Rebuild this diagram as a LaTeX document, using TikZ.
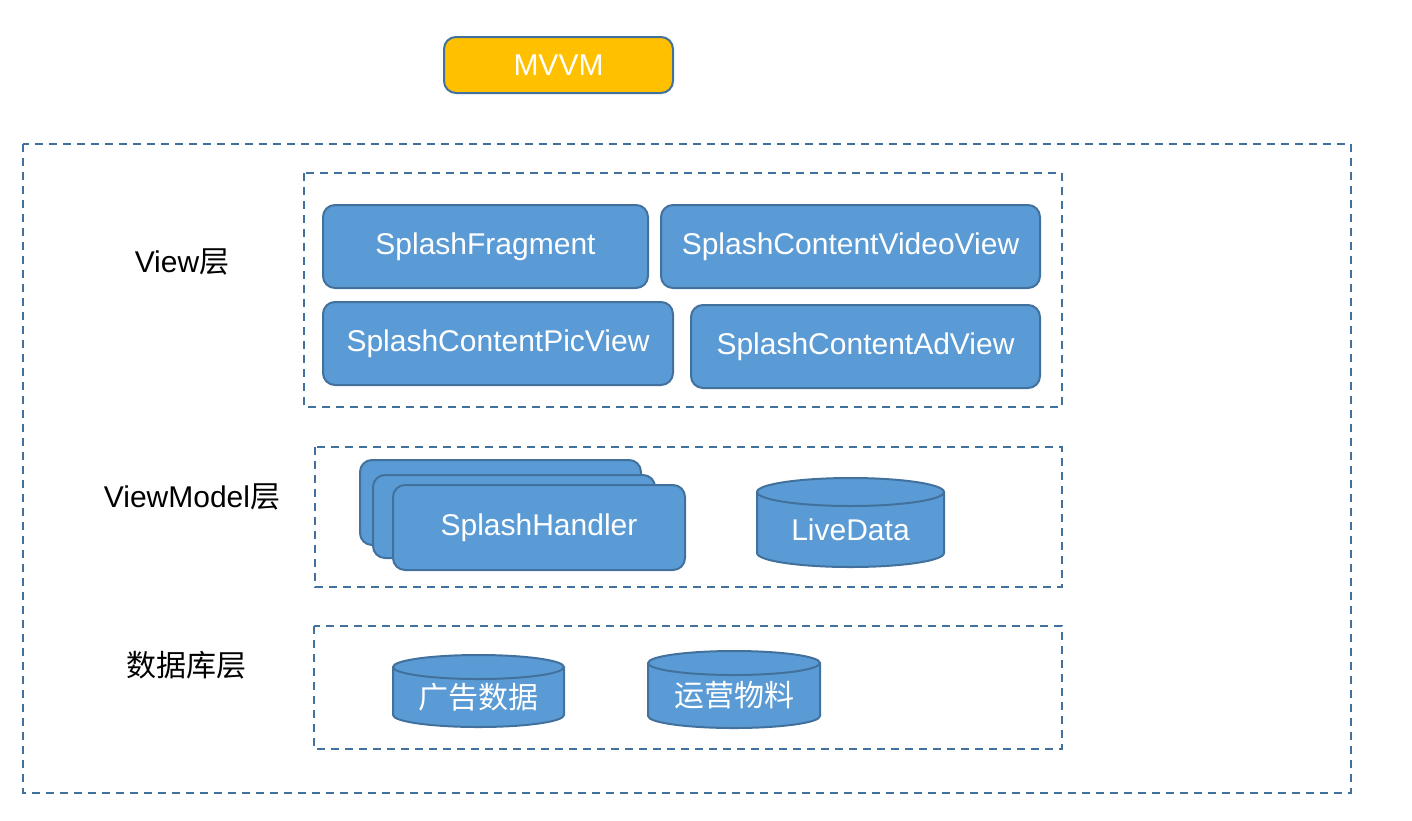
\documentclass[tikz,border=0pt]{standalone}
\usepackage{fontspec}
\setmainfont{Liberation Sans}
\newfontfamily\cjk{Noto Sans CJK SC}
\definecolor{boxblue}{HTML}{5B9BD5}
\definecolor{edgeblue}{HTML}{41719C}
\definecolor{mvvmgold}{HTML}{FFC000}
\tikzset{
	box/.style={draw=edgeblue, line width=1pt, fill=boxblue, rounded corners=6pt,
		text=white, inner sep=0pt, minimum height=41.5pt,
		font=\fontsize{15}{18}\selectfont},
	dbbody/.style={draw=edgeblue, line width=1pt, fill=boxblue},
	group/.style={draw=edgeblue, line width=0.75pt, dash pattern=on 4pt off 3pt},
	layer/.style={text=black, font=\fontsize{15}{18}\selectfont},
	dbtext/.style={text=white, font=\fontsize{15}{18}\selectfont}
}
\begin{document}
\begin{tikzpicture}[x=0.5pt, y=-0.5pt]
\useasboundingbox (0, 0) rectangle (1412, 820);

\node[box, fill=mvvmgold, minimum width=114.5pt, minimum height=28pt] (mvvm) at (558.5, 65) {MVVM};

\draw[group] (23, 144) rectangle (1351, 793);
\draw[group] (304, 173) rectangle (1062, 407);
\draw[group] (315, 447) rectangle (1062, 587);
\draw[group] (314, 626) rectangle (1062, 749);

\node[layer] (viewlayer) at (182, 262) {View{\cjk 层}};
\node[layer] (vmlayer) at (192, 497) {ViewModel{\cjk 层}};
\node[layer] (dblayer) at (186, 665) {\cjk 数据库层};

\foreach \name/\x/\y/\w/\text in {
	fragment/485.5/246.5/162.5/SplashFragment,
	videoview/850.5/246.5/189.5/SplashContentVideoView,
	picview/498/343.5/175/SplashContentPicView,
	adview/865.5/346.5/174.5/SplashContentAdView}
\node[box, minimum width=\w pt] (\name) at (\x, \y) {\text};

% stacked handlers
\node[box, minimum width=140.5pt, minimum height=42.5pt] (handlerc) at (500.5, 502.5) {};
\node[box, minimum width=141pt] (handlerb) at (514, 516.5) {};
\node[box, minimum width=146pt, minimum height=42.5pt] (handler) at (539, 527.5) {SplashHandler};

% cylinders
\foreach \name/\xa/\xb/\ya/\yb/\r/\txt in {
	livedata/757/944/478/567/14/LiveData,
	addata/393/564/655/727/12/{\cjk 广告数据},
	opsdata/648/820/651/728/12/{\cjk 运营物料}}
{
	\pgfmathsetmacro\rx{(\xb-\xa)/4}
	\pgfmathsetmacro\ry{\r/2}
	\filldraw[dbbody] (\xa, \ya+\r) -- (\xa, \yb-\r)
		arc[start angle=180, end angle=360, x radius=\rx pt, y radius=\ry pt]
		-- (\xb, \ya+\r)
		arc[start angle=0, end angle=180, x radius=\rx pt, y radius=\ry pt] -- cycle;
	\draw[dbbody, fill=none] (\xa, \ya+\r)
		arc[start angle=180, end angle=360, x radius=\rx pt, y radius=\ry pt];
	\node[dbtext] (\name) at ({(\xa+\xb)/2}, {(\ya+\r+\yb)/2}) {\txt};
}

\end{tikzpicture}
\end{document}
